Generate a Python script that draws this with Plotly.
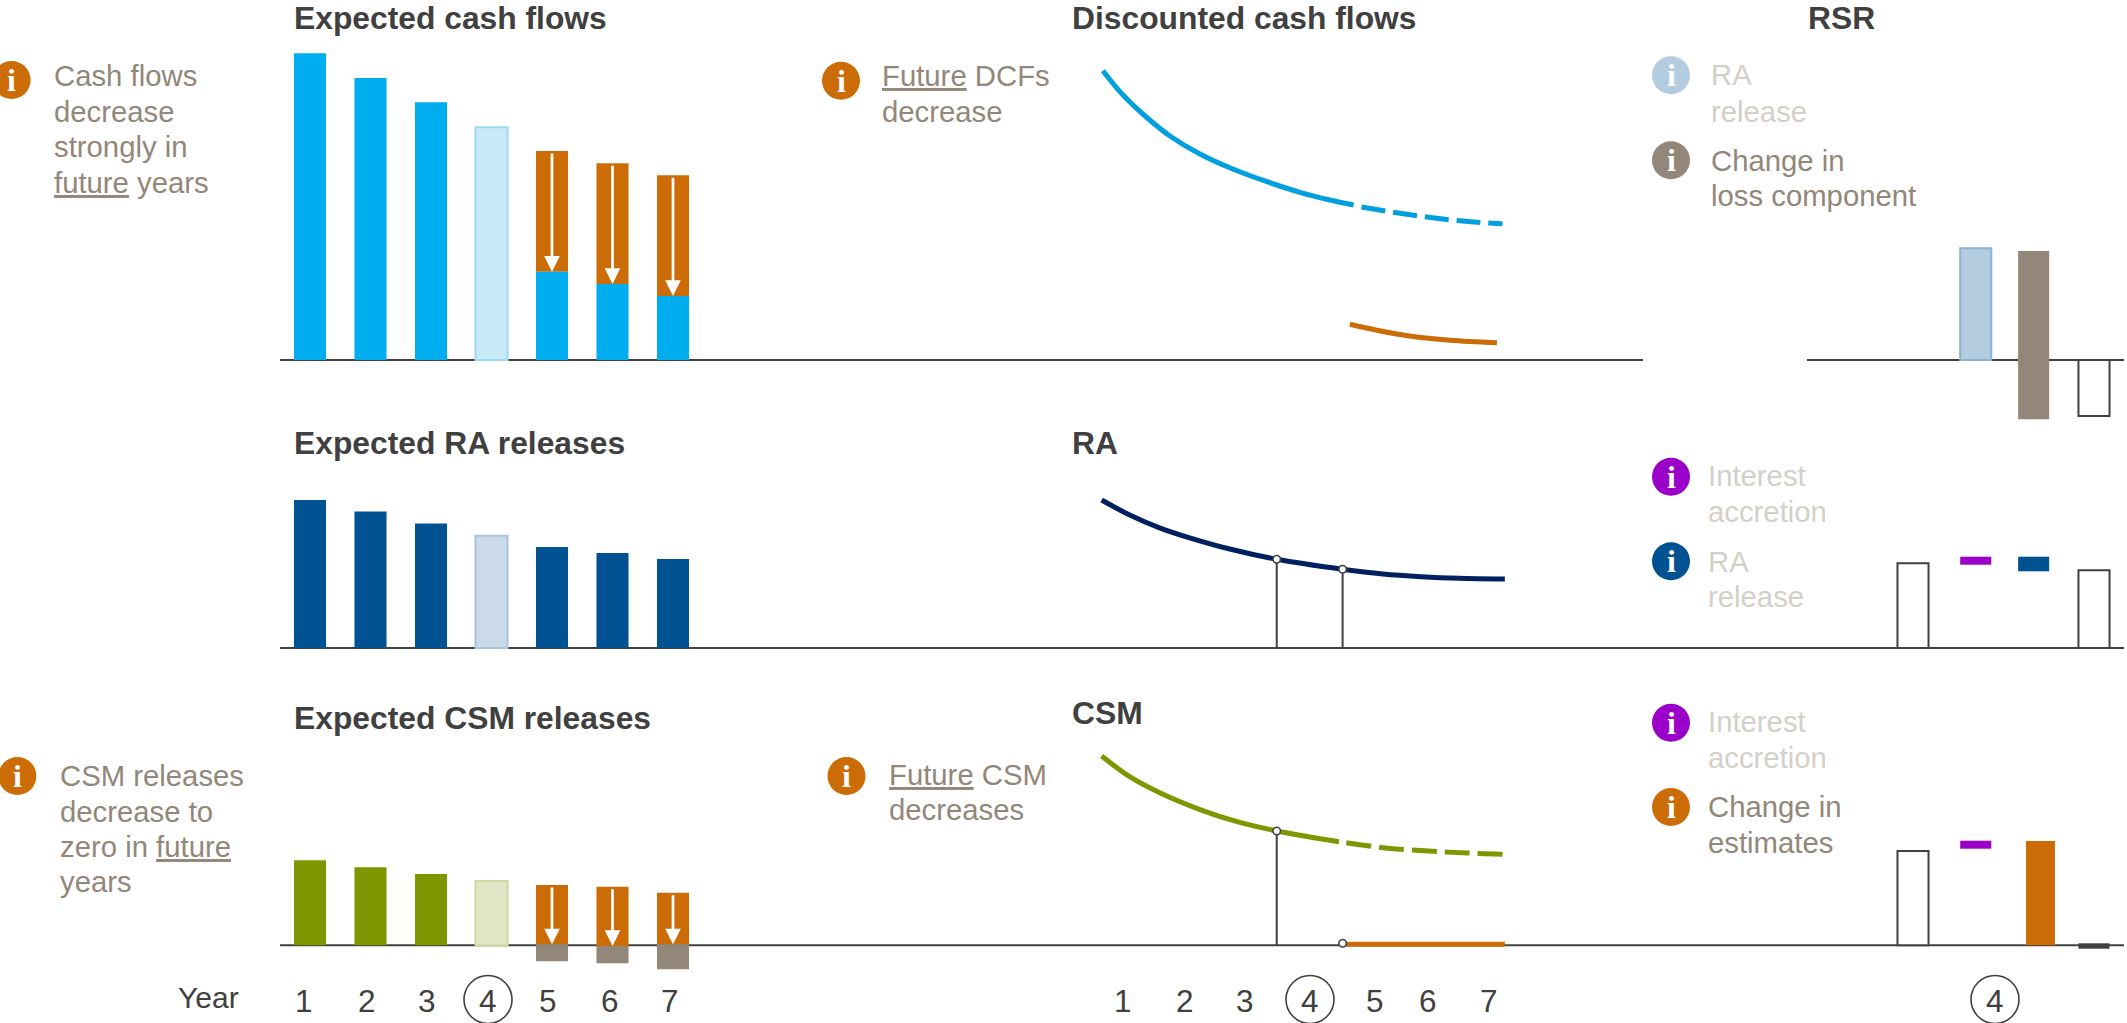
import plotly.graph_objects as go

W, H = 2127, 1023
# ------------------ data (heights above each row's baseline) ------------------
years = [1, 2, 3, 4, 5, 6, 7]
cash_total = [306.7, 282, 257.7, 232.7, 209, 196.7, 184.7]
cash_remaining = [88.3, 76, 64]
ra_releases = [148, 136.6, 124.6, 112.3, 101, 95, 89]
csm_releases = [85, 78, 71.3, 64.3]
csm_future_top = [60.3, 58.6, 52.6]
csm_future_bottom = [1, -0.7, 1]
csm_negative = [-16, -18, -24]

dcf_t = [0.67, 1.00, 1.39, 1.77, 2.26, 2.81, 3.36, 3.90, 4.39, 4.78]
dcf_v = [289.3, 265, 242.5, 224, 206, 190.7, 178.3, 167.7, 160, 155]
dcf_dash_t = [4.91, 5.54, 6.14, 6.69, 7.22]
dcf_dash_v = [153, 146.7, 141.7, 138.3, 136.3]
dcf_new_t = [4.72, 5.16, 5.70, 6.36, 7.13]
dcf_new_v = [35.7, 29.8, 24, 19.8, 17.3]
ra_t = [0.65, 1.11, 1.62, 2.12, 2.75, 3.52, 4.60, 5.26, 5.89, 6.51, 7.26]
ra_v = [148, 133, 119.7, 109.7, 99, 88.7, 78.7, 74, 71.3, 69.7, 69]
csm_t = [0.65, 1.11, 1.62, 2.25, 2.87, 3.52, 4.54]
csm_v = [189.3, 168.6, 152, 136, 123.6, 114.3, 103.6]
csm_dash_t = [4.66, 5.26, 6.01, 6.64, 7.28]
csm_dash_v = [102.6, 97.6, 94.3, 92.3, 91]
csm_new_t = [4.66, 7.26]
csm_new_v = [1, 1]
year_start, year_end = 3.52, 4.60

rsr_ra_release = 111.7
rsr_loss_top, rsr_loss_bottom = 109, -59.3
rsr_closing1 = -56
ra_opening, ra_acc_top, ra_acc_bot, ra_rel_top, ra_rel_bot, ra_closing = 84.7, 91.3, 83.3, 91.3, 76.7, 77.7
csm_opening, csm_acc_top, csm_acc_bot, csm_change, csm_closing_top, csm_closing_bot = 94.3, 104.6, 96.6, 104.3, 2, -3.4

# ------------------ styles ------------------
BLUE, BLUE_L, BLUE_B = "#00AEEF", "#C9EAF8", "#9CDAF2"
LINEBLUE = "#009FE0"
NAVY, NAVY_L, NAVY_B = "#005293", "#CADAE8", "#A9C4DC"
DEEP = "#00205F"
GREEN, GREEN_L, GREEN_B = "#7E9700", "#E1E8C8", "#CDD9A0"
ORANGE, TAUPE, PURPLE, DARK = "#CC6C06", "#928779", "#9B00C8", "#404040"
RA_L, RA_B = "#B3CCE0", "#8AB2D3"
FADE = "#D3CFC9"
FONT = "Liberation Sans"

BL = [360, 648, 945.3]                  # baselines of the three rows, px
ROWS = [(40, 430), (490, 680), (740, 980)]
COLS = [(280, 720), (1000, 1640), (1880, 2127)]
XMAP = [(310, 60.5), (1123, 61), (1913, 60.33)]

def px(x): return x / W
def py(y): return 1 - y / H

fig = go.Figure()

def ax(col, row):
    return ("x" if col == 0 else f"x{col+1}"), ("y" if row == 0 else f"y{row+1}")

def bars(col, row, x, top, color, bottom=None, width=0.53, offset=None, line=None, lw=0):
    xa, ya = ax(col, row)
    if bottom is None:
        bottom = [0] * len(x)
    fig.add_trace(go.Bar(
        x=x, y=[t - b for t, b in zip(top, bottom)], base=bottom, xaxis=xa, yaxis=ya,
        width=width, offset=(-width / 2 if offset is None else offset),
        marker=dict(color=color, line=dict(color=line or color, width=lw)),
        showlegend=False, hoverinfo="skip"))

def curve(row, t, v, color, dash=None, lw=5):
    xa, ya = ax(1, row)
    fig.add_trace(go.Scatter(x=t, y=v, mode="lines", xaxis=xa, yaxis=ya, showlegend=False,
                             line=dict(color=color, width=lw, dash=dash, shape="spline"),
                             hoverinfo="skip"))

def stem(row, t, v, drop=True):
    xa, ya = ax(1, row)
    if drop:
        fig.add_trace(go.Scatter(x=[t, t], y=[0, v], mode="lines", xaxis=xa, yaxis=ya, showlegend=False,
                                 line=dict(color=DARK, width=2), hoverinfo="skip"))
    fig.add_trace(go.Scatter(x=[t], y=[v], mode="markers", xaxis=xa, yaxis=ya, showlegend=False,
                             marker=dict(color="white", size=7.5, line=dict(color=DARK, width=1.6)),
                             hoverinfo="skip"))

# Row 1 left
bars(0, 0, years[:3], cash_total[:3], BLUE)
bars(0, 0, [4], [cash_total[3]], BLUE_L, line=BLUE_B, lw=2)
bars(0, 0, years[4:], cash_total[4:], ORANGE, bottom=cash_remaining)
bars(0, 0, years[4:], cash_remaining, BLUE)
# Row 2 left
bars(0, 1, years[:3] + years[4:], ra_releases[:3] + ra_releases[4:], NAVY)
bars(0, 1, [4], [ra_releases[3]], NAVY_L, line=NAVY_B, lw=2)
# Row 3 left
bars(0, 2, years[:3], csm_releases[:3], GREEN)
bars(0, 2, [4], [csm_releases[3]], GREEN_L, line=GREEN_B, lw=2)
bars(0, 2, years[4:], csm_future_top, ORANGE, bottom=csm_future_bottom)
bars(0, 2, years[4:], csm_future_bottom, TAUPE, bottom=csm_negative)

# Middle curves
curve(0, dcf_t, dcf_v, LINEBLUE)
curve(0, dcf_dash_t, dcf_dash_v, LINEBLUE, dash="24px,8px")
curve(0, dcf_new_t, dcf_new_v, ORANGE)
curve(1, ra_t, ra_v, DEEP)
stem(1, year_start, 88.7)
stem(1, year_end, 78.7)
curve(2, csm_t, csm_v, GREEN)
curve(2, csm_dash_t, csm_dash_v, GREEN, dash="25px,8px")
curve(2, csm_new_t, csm_new_v, ORANGE, lw=5)
stem(2, year_start, 114.3)
stem(2, year_end, 2, drop=False)

# Right panels (category 1..4 = opening, interest / RA, change, closing)
W1 = 0.515
bars(2, 0, [2], [rsr_ra_release], RA_L, offset=-W1/2 + 0.04, width=W1, line=RA_B, lw=2)
bars(2, 0, [3], [rsr_loss_top], TAUPE, bottom=[rsr_loss_bottom], width=W1)
bars(2, 0, [4], [0], "white", bottom=[rsr_closing1], width=W1, line=DARK, lw=2)

bars(2, 1, [1], [ra_opening], "white", width=W1, line=DARK, lw=2)
bars(2, 1, [2], [ra_acc_top], PURPLE, bottom=[ra_acc_bot], offset=-W1/2 + 0.04, width=W1)
bars(2, 1, [3], [ra_rel_top], NAVY, bottom=[ra_rel_bot], width=W1)
bars(2, 1, [4], [ra_closing], "white", width=W1, line=DARK, lw=2)

bars(2, 2, [1], [csm_opening], "white", width=W1, line=DARK, lw=2)
bars(2, 2, [2], [csm_acc_top], PURPLE, bottom=[csm_acc_bot], offset=-W1/2 + 0.04, width=W1)
bars(2, 2, [3], [csm_change], ORANGE, offset=-0.24 + 0.113, width=0.48)
bars(2, 2, [4], [csm_closing_top], DARK, bottom=[csm_closing_bot], width=W1)

# ------------------ axes ------------------
layout = dict(width=W, height=H, margin=dict(l=0, r=0, t=0, b=0), autosize=False,
              paper_bgcolor="white", plot_bgcolor="white", barmode="overlay", showlegend=False,
              font=dict(family=FONT))
for c, ((a, b), (o, s)) in enumerate(zip(COLS, XMAP)):
    layout["xaxis" if c == 0 else f"xaxis{c+1}"] = dict(
        domain=[px(a), px(b)], range=[(a - o) / s + 1, (b - o) / s + 1], visible=False,
        anchor="y" , fixedrange=True)
for r, ((a, b), bl) in enumerate(zip(ROWS, BL)):
    layout["yaxis" if r == 0 else f"yaxis{r+1}"] = dict(
        domain=[py(b), py(a)], range=[bl - b, bl - a], visible=False, anchor="x", fixedrange=True)

# ------------------ shapes ------------------
shapes = []
def base(row, x0, x1):
    shapes.append(dict(type="line", xref="paper", yref=ax(0, row)[1], x0=px(x0), x1=px(x1), y0=0, y1=0,
                       line=dict(color=DARK, width=2), layer="below"))
base(0, 280, 1643); base(0, 1807, 2124); base(1, 280, 2124); base(2, 280, 2124)

anns = []
def text(x, y, s, color=TAUPE, size=29.3, bold=False, anchor="left", family=FONT):
    if bold:
        s = f"<b>{s}</b>"
    if anchor == "left":
        x -= 1.0
        y -= 0.5
    anns.append(dict(xref="paper", yref="paper", x=px(x), y=py(y), text=s, showarrow=False,
                     xanchor=anchor, yanchor="middle", align=anchor, xshift=0, yshift=0,
                     borderpad=0, font=dict(family=family, size=size, color=color)))

def icon(x, y, color):
    r = 19
    shapes.append(dict(type="circle", xref="paper", yref="paper", x0=px(x - r), x1=px(x + r),
                       y0=py(y + r), y1=py(y - r), fillcolor=color, line=dict(width=0), layer="above"))
    text(x, y, "i", "white", 32, True, "center", "Liberation Serif")

def ring(x):
    r = 24
    shapes.append(dict(type="circle", xref="paper", yref="paper", x0=px(x - r), x1=px(x + r),
                       y0=py(1000 + r - 0.5), y1=py(1000 - r - 0.5), fillcolor="rgba(0,0,0,0)",
                       line=dict(color=DARK, width=1.6), layer="above"))

# titles
TS = 31.8
TOP = 19
text(294, TOP, "Expected cash flows", DARK, TS, True)
text(294, 443, "Expected RA releases", DARK, TS, True)
text(294, 718, "Expected CSM releases", DARK, TS, True)
text(1072, TOP, "Discounted cash flows", DARK, TS, True)
text(1072, 443, "RA", DARK, TS, True)
text(1072, 713, "CSM", DARK, TS, True)
text(1808, TOP, "RSR", DARK, TS, True)

# notes
icon(11.6, 80, ORANGE)
for y, s in zip([76, 111.7, 147, 182.7], ["Cash flows", "decrease", "strongly in", "<u>future</u> years"]):
    text(54, y, s)
icon(17.4, 776, ORANGE)
for y, s in zip([776, 811.7, 846.7, 882.3], ["CSM releases", "decrease to", "zero in <u>future</u>", "years"]):
    text(59.6, y, s)
icon(841, 80.7, ORANGE)
text(882.4, 76, "<u>Future</u> DCFs"); text(882.4, 111.7, "decrease")
icon(846.5, 776, ORANGE)
text(888.5, 774.6, "<u>Future</u> CSM"); text(888.5, 810, "decreases")

icon(1671, 75.3, RA_L)
text(1710.7, 75, "RA", FADE); text(1710.7, 111.7, "release", FADE)
icon(1671, 160.3, TAUPE)
text(1710.7, 160.7, "Change in"); text(1710.7, 196, "loss component")
icon(1671, 476.7, PURPLE)
text(1708.3, 476, "Interest", FADE); text(1708.3, 511.7, "accretion", FADE)
icon(1671, 561.3, NAVY)
text(1708.3, 561.7, "RA", FADE); text(1708.3, 596.7, "release", FADE)
icon(1671, 722.7, PURPLE)
text(1708.3, 722.3, "Interest", FADE); text(1708.3, 757.7, "accretion", FADE)
icon(1671, 807, ORANGE)
text(1708.3, 807.3, "Change in"); text(1708.3, 842.7, "estimates")

# year labels
text(178, 998, "Year", DARK, 30)
left_lbl = [304, 367, 427, 488, 548, 610, 670]
mid_lbl = [1123, 1184.5, 1245, 1310, 1375, 1428, 1489]
for y, a, b in zip(years, left_lbl, mid_lbl):
    text(a, 1001, str(y), DARK, 31.5, anchor="center")
    text(b, 1001, str(y), DARK, 31.5, anchor="center")
text(1995, 1001, "4", DARK, 31.5, anchor="center")
ring(488); ring(1310); ring(1995)

# white arrows through the orange parts
def arrow(row, x, top, tip):
    xa, ya = ax(0, row)
    anns.append(dict(xref=xa, yref=ya, axref=xa, ayref=ya, x=x, y=tip, ax=x, ay=top, text="",
                     showarrow=True, arrowhead=2, arrowsize=1.16, arrowwidth=2.7, arrowcolor="white",
                     standoff=0, startstandoff=0))
for x, t, b in zip(years[4:], cash_total[4:], cash_remaining):
    arrow(0, x, t - 1, b)
for x, t, b in zip(years[4:], csm_future_top, csm_future_bottom):
    arrow(2, x, t - 1, b)

layout["shapes"] = shapes
layout["annotations"] = anns
fig.update_layout(**layout)

fig.write_html("out.html", config=dict(displayModeBar=False),
               post_script="document.body.style.margin='0';document.body.style.overflow='hidden';")
